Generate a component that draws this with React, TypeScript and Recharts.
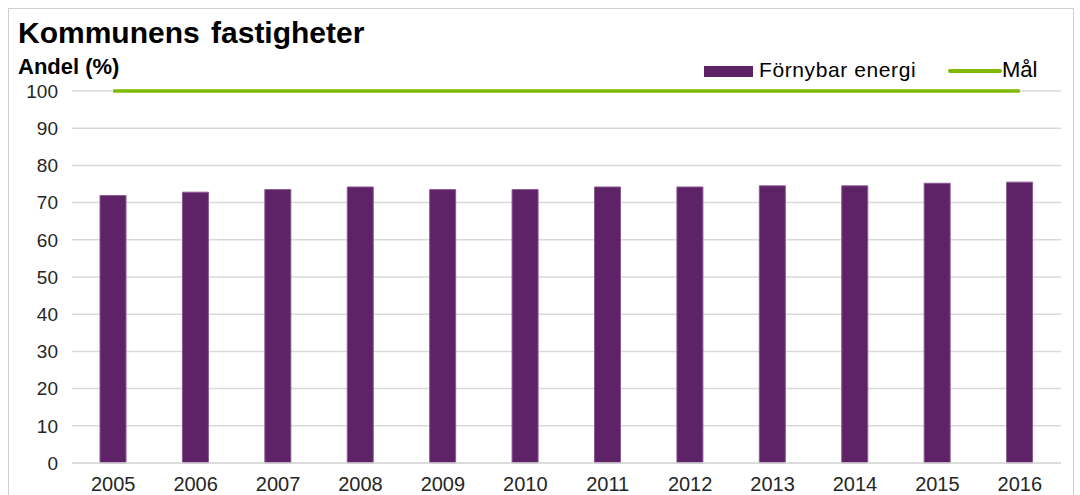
import React from "react";
import { ComposedChart, Bar, Line, XAxis, YAxis, CartesianGrid } from "recharts";

const years = ["2005", "2006", "2007", "2008", "2009", "2010", "2011", "2012", "2013", "2014", "2015", "2016"];
const renewable = [71.9, 72.8, 73.5, 74.2, 73.5, 73.5, 74.2, 74.2, 74.5, 74.5, 75.2, 75.5];
const goal = [100, 100, 100, 100, 100, 100, 100, 100, 100, 100, 100, 100];
const yTicks = [0, 10, 20, 30, 40, 50, 60, 70, 80, 90, 100];

const data = years.map((y, i) => ({ year: y, value: renewable[i], goal: goal[i] }));

const PURPLE = "#5E2266";
const GREEN = "#7FBA00";
const FONT = "'Liberation Sans', Arial, sans-serif";

export default function App() {
  return (
    <div style={{ position: "absolute", left: 0, top: 0, width: 1080, height: 495, background: "#fff", overflow: "hidden" }}>
      <div style={{ position: "absolute", left: 8, top: 8, width: 1066, height: 500, border: "1px solid #d0d0d0", boxSizing: "border-box" }} />
      <div style={{ position: "absolute", left: 18, top: 18, fontFamily: FONT, fontWeight: "bold", fontSize: 30, lineHeight: "30px", color: "#000", wordSpacing: 3, whiteSpace: "nowrap" }}>
        Kommunens fastigheter
      </div>
      <div style={{ position: "absolute", left: 18, top: 56, fontFamily: FONT, fontWeight: "bold", fontSize: 22, lineHeight: "22px", color: "#000", whiteSpace: "nowrap" }}>
        Andel (%)
      </div>
      <div style={{ position: "absolute", left: 704, top: 66, width: 49, height: 11, background: PURPLE }} />
      <div style={{ position: "absolute", left: 759, top: 59, fontFamily: FONT, fontSize: 21, letterSpacing: 0.6, lineHeight: "22px", color: "#000", whiteSpace: "nowrap" }}>
        Förnybar energi
      </div>
      <div style={{ position: "absolute", left: 948, top: 69, width: 54, height: 4, borderRadius: 2, background: GREEN }} />
      <div style={{ position: "absolute", left: 1002, top: 59, fontFamily: FONT, fontSize: 22, lineHeight: "22px", color: "#000", whiteSpace: "nowrap" }}>
        Mål
      </div>
      <ComposedChart
        width={1080}
        height={495}
        data={data}
        margin={{ top: 91, right: 19, bottom: 2, left: 12 }}
        style={{ position: "absolute", left: 0, top: 0 }}
      >
        <CartesianGrid vertical={false} stroke="#d9d9d9" strokeWidth={1.5} />
        <XAxis
          dataKey="year"
          tickLine={false}
          axisLine={{ stroke: "#d9d9d9", strokeWidth: 1.5 }}
          tickSize={0}
          tickMargin={14}
          height={30}
          tick={{ fill: "#262626", fontSize: 20, fontFamily: FONT }}
        />
        <YAxis
          domain={[0, 100]}
          ticks={yTicks}
          interval={0}
          tickLine={false}
          axisLine={false}
          tickSize={0}
          tickMargin={14}
          width={60}
          tick={{ fill: "#262626", fontSize: 19, fontFamily: FONT }}
        />
        <Bar dataKey="value" name="Förnybar energi" fill={PURPLE} stroke="#8a5a91" strokeWidth={1} barSize={26} isAnimationActive={false} />
        <Line dataKey="goal" name="Mål" stroke={GREEN} strokeWidth={3.5} dot={false} activeDot={false} isAnimationActive={false} />
      </ComposedChart>
    </div>
  );
}
